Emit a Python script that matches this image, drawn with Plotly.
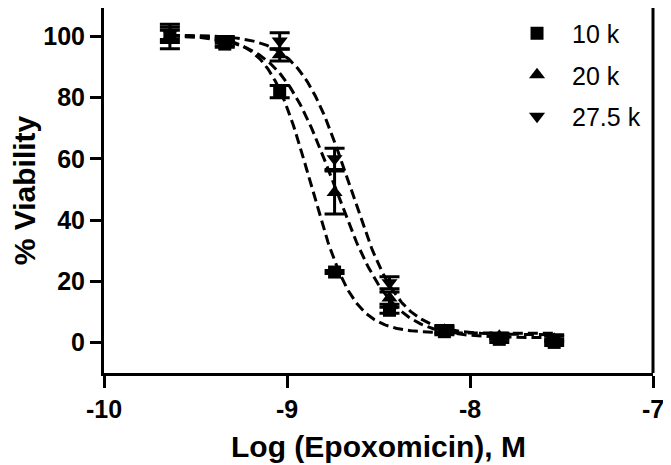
import numpy as np
import plotly.graph_objects as go

# ---- data ----
log_conc = [-9.64, -9.34, -9.04, -8.74, -8.44, -8.14, -7.84, -7.54]
series_names = ["10 k", "20 k", "27.5 k"]
v10 = [100.0, 97.5, 82.0, 23.0, 10.5, 3.5, 1.0, 0.0]
e10 = [4.0, 1.0, 2.0, 0.5, 1.0, 1.0, 1.0, 1.0]
v20 = [100.0, 98.0, 94.0, 49.0, 14.5, 4.0, 2.0, 1.0]
e20 = [2.0, 1.0, 2.0, 7.0, 2.0, 1.0, 1.0, 1.0]
v27 = [101.0, 99.0, 98.5, 60.0, 19.5, 4.5, 2.0, 1.5]
e27 = [2.0, 1.0, 2.7, 3.5, 2.0, 1.0, 1.0, 1.0]
# 4-parameter logistic fit parameters (top, bottom, logEC50, hill)
fit10 = (100.5, 3.0, -8.87, 3.8)
fit20 = (100.5, 1.5, -8.74, 2.8)
fit27 = (100.5, 2.5, -8.66, 3.2)
x_ticks = [-10, -9, -8, -7]
y_ticks = [0, 20, 40, 60, 80, 100]

symbols = ["square", "triangle-up", "triangle-down"]
sizes = [13, 14, 14]

def logistic(x, p):
    top, bottom, ec, h = p
    return bottom + (top - bottom) / (1 + 10 ** ((x - ec) * h))

fig = go.Figure()
xc = np.linspace(min(log_conc), max(log_conc), 300)

for name, p in zip(series_names, [fit10, fit20, fit27]):
    fig.add_trace(go.Scatter(x=xc, y=logistic(xc, p), mode="lines",
                             line=dict(color="black", width=3, dash="10px,5px"),
                             showlegend=False, hoverinfo="skip"))

order = [2, 1, 0]
vals = [v10, v20, v27]
errs = [e10, e20, e27]
for i in order:
    fig.add_trace(go.Scatter(
        x=log_conc, y=vals[i], mode="markers", name=series_names[i],
        legendrank=i + 1, legendgroup=series_names[i],
        marker=dict(symbol=symbols[i], size=sizes[i], color="black"),
        error_y=dict(type="data", array=errs[i], visible=True,
                     color="black", thickness=3, width=10)))

font_fam = "Liberation Sans, Arial, sans-serif"
fig.update_layout(
    width=663, height=457,
    margin=dict(l=96, r=18, t=0, b=92),
    paper_bgcolor="white", plot_bgcolor="white",
    showlegend=True,
    legend=dict(x=0.725, y=0.993, xanchor="left", yanchor="top",
                font=dict(family=font_fam, size=25, color="black"),
                bgcolor="rgba(0,0,0,0)", itemwidth=60, tracegroupgap=6,
                traceorder="grouped"),
    xaxis=dict(range=[-10, -7], tickvals=x_ticks, ticktext=[str(t) for t in x_ticks],
               showgrid=False, zeroline=False, showline=True, linecolor="black",
               linewidth=3, ticks="outside", ticklen=12, tickwidth=3, tickcolor="black",
               tickfont=dict(family=font_fam, size=25, color="black", weight="bold"),
               title=dict(text="Log (Epoxomicin), M", standoff=14,
                          font=dict(family=font_fam, size=30, color="black", weight="bold"))),
    yaxis=dict(range=[-10, 109.3], tickvals=y_ticks, showgrid=False, zeroline=False,
               showline=True, linecolor="black", linewidth=3, ticks="outside",
               ticklen=11, tickwidth=3, tickcolor="black",
               tickfont=dict(family=font_fam, size=25, color="black", weight="bold"),
               title=dict(text="% Viability", standoff=10,
                          font=dict(family=font_fam, size=30, color="black", weight="bold"))),
    shapes=[dict(type="line", xref="paper", yref="paper", x0=1, x1=1, y0=0, y1=1.0,
                 line=dict(color="black", width=3))],
)

fig.write_html("out.html")
